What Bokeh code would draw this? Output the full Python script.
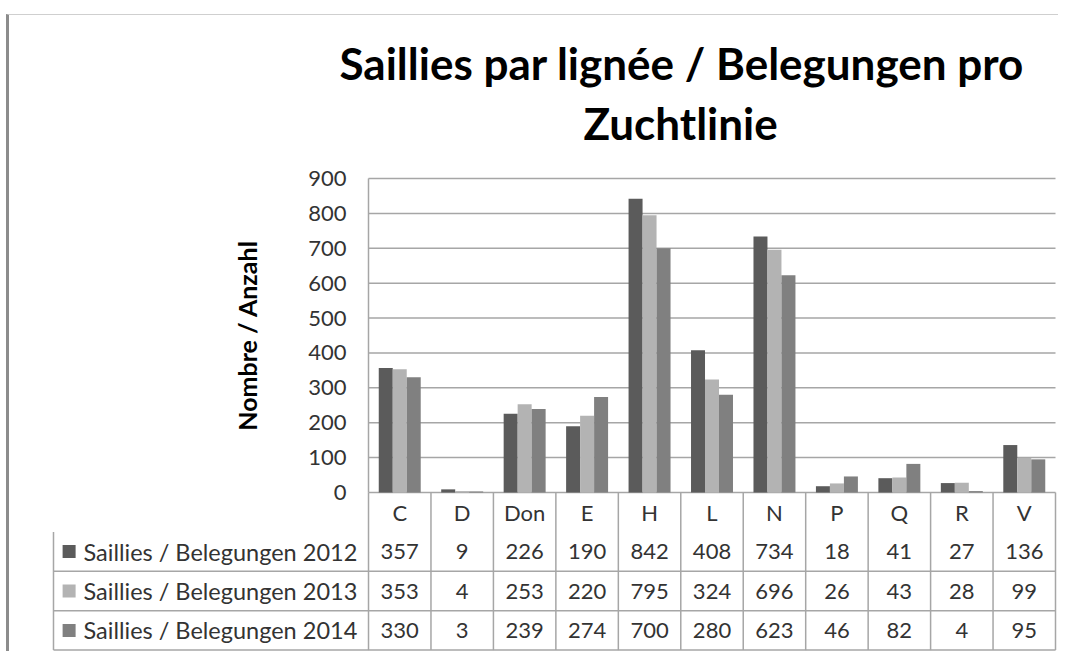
from bokeh.plotting import figure
from bokeh.models import Range1d, FixedTicker, Title, ColumnDataSource
from bokeh.layouts import column
from bokeh.transform import dodge
from bokeh.embed import file_html
from bokeh.resources import INLINE
from bokeh.core.properties import value

# ---------------- data ----------------
categories = ["C", "D", "Don", "E", "H", "L", "N", "P", "Q", "R", "V"]
series_names = ["Saillies / Belegungen 2012",
                "Saillies / Belegungen 2013",
                "Saillies / Belegungen 2014"]
v2012 = [357, 9, 226, 190, 842, 408, 734, 18, 41, 27, 136]
v2013 = [353, 4, 253, 220, 795, 324, 696, 26, 43, 28, 99]
v2014 = [330, 3, 239, 274, 700, 280, 623, 46, 82, 4, 95]
y_ticks = [0, 100, 200, 300, 400, 500, 600, 700, 800, 900]
title_line1 = "Saillies par lignée / Belegungen pro"
title_line2 = "Zuchtlinie"
y_label = "Nombre / Anzahl"

# ---------------- style ----------------
series_values = [v2012, v2013, v2014]
colors = ["#5b5b5b", "#b3b3b3", "#808080"]
FONT = "Lato"
GRID = "#a6a6a6"
TXT = "#333333"
bar_w = 0.224
offsets = [-bar_w, 0.0, bar_w]
n_cat = len(categories)
n_ser = len(series_names)
legend_w = 5.044          # width of the legend column, in category widths
row_px = 39.4             # table row height in pixels
cnt_px = 314 / 900        # pixels per count

centers = [i + 0.5 for i in range(n_cat)]
src = ColumnDataSource(dict(xc=centers, s0=v2012, s1=v2013, s2=v2014))

# frame covers chart area + data table
frame_h = 485
top_pad_px = 12
y_end = y_ticks[-1] + top_pad_px / cnt_px
y_start = y_end - frame_h / cnt_px
t_end = (n_ser + 1) + (y_ticks[-1] * cnt_px + top_pad_px) / row_px
t_start = t_end - frame_h / row_px

p = figure(x_range=Range1d(-5.092, n_cat + 0.048),
           y_range=Range1d(y_start, y_end),
           width=1049, height=151 + frame_h,
           min_border_left=41, min_border_right=0,
           min_border_top=151, min_border_bottom=0,
           output_backend="svg", toolbar_location=None,
           title=title_line1)
p.extra_y_ranges = {"table": Range1d(t_start, t_end)}

p.title.text_font = FONT
p.title.text_font_size = "44px"
p.title.text_font_style = "bold"
p.title.text_color = "#000000"
p.title.align = "left"
p.title.offset = 289
p.title.standoff = -24
p.add_layout(Title(text=title_line2, text_font=FONT, text_font_size="44px",
                   text_font_style="bold", text_color="#000000",
                   align="left", offset=533, standoff=36), "above")

# gridlines over the category area only
gx0 = [0] * len(y_ticks)
gx1 = [n_cat] * len(y_ticks)
p.segment(x0=gx0, y0=y_ticks, x1=gx1, y1=y_ticks, line_color=GRID, line_width=1.5)

for k in range(n_ser):
    p.vbar(x=dodge("xc", offsets[k]), top=f"s{k}", bottom=0,
           width=bar_w, source=src, fill_color=colors[k], line_color=None)

p.xaxis.visible = False
p.grid.visible = False
p.yaxis.fixed_location = 0
p.yaxis.bounds = (y_ticks[0], y_ticks[-1])
p.yaxis.ticker = FixedTicker(ticks=y_ticks)
p.yaxis.axis_line_color = GRID
p.yaxis.axis_line_width = 1.5
p.yaxis.major_tick_line_color = None
p.yaxis.minor_tick_line_color = None
p.yaxis.major_tick_out = 0
p.yaxis.major_label_standoff = 22
p.yaxis.major_label_text_font = FONT
p.yaxis.major_label_text_font_size = "22px"
p.yaxis.major_label_text_color = TXT
p.yaxis.axis_label = y_label
p.yaxis.axis_label_text_font = FONT
p.yaxis.axis_label_text_font_size = "25px"
p.yaxis.axis_label_text_font_style = "bold"
p.yaxis.axis_label_text_color = "#000000"
p.yaxis.axis_label_standoff = 43
p.outline_line_color = None

# ---------------- data table ----------------
hy = list(range(n_ser))
p.segment(x0=[-legend_w] * n_ser, y0=hy, x1=[n_cat] * n_ser, y1=hy,
          line_color=GRID, line_width=1.5, y_range_name="table")
vx = list(range(0, n_cat + 1))
p.segment(x0=vx, y0=[0] * len(vx), x1=vx, y1=[n_ser + 1] * len(vx),
          line_color=GRID, line_width=1.5, y_range_name="table")
p.segment(x0=[-legend_w], y0=[0], x1=[-legend_w], y1=[n_ser],
          line_color=GRID, line_width=1.5, y_range_name="table")

p.text(x=centers, y=[n_ser + 0.5] * n_cat, text=categories, y_range_name="table",
       text_font=value(FONT), text_font_size="22px", text_color=TXT,
       text_align="center", text_baseline="middle")
for k in range(n_ser):
    row = n_ser - k - 0.5
    p.text(x=centers, y=[row] * n_cat, text=[str(v) for v in series_values[k]],
           y_range_name="table",
           text_font=value(FONT), text_font_size="22px", text_color=TXT,
           text_align="center", text_baseline="middle")
    p.rect(x=[-legend_w + 0.25], y=[row], width=13, height=13,
           width_units="screen", height_units="screen", y_range_name="table",
           fill_color=colors[k], line_color=None)
    p.text(x=[-legend_w], y=[row], text=[series_names[k]], x_offset=30,
           y_range_name="table",
           text_font=value(FONT), text_font_size="23.5px", text_color=TXT,
           text_align="left", text_baseline="middle")

layout = column(p, styles={"border-left": "3px solid #8c8c8c",
                           "border-top": "1px solid #cfcfcf",
                           "margin": "14px 0px 0px 6px"})

open("out.html", "w").write(file_html(layout, INLINE))
